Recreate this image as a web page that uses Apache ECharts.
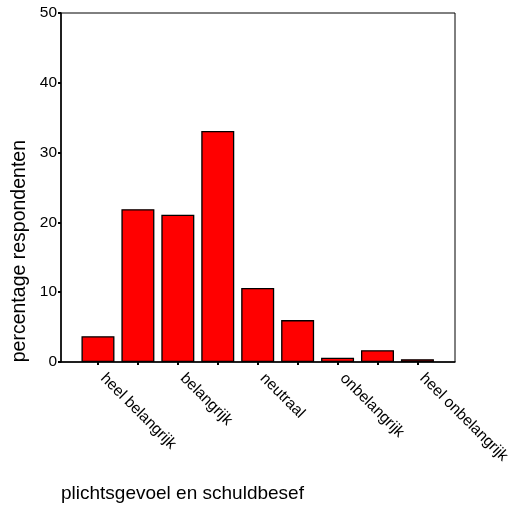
<!DOCTYPE html>
<html>
<head>
<meta charset="utf-8">
<script src="https://cdn.jsdelivr.net/npm/echarts@6/dist/echarts.min.js"></script>
<style>
  html, body { margin: 0; padding: 0; background: #fff; }
  #chart { width: 513px; height: 513px; }
</style>
</head>
<body>
<div id="chart"></div>
<script>
// 9-point scale, only every other point has a label
var categories = ['1', '2', '3', '4', '5', '6', '7', '8', '9'];
var tickLabels = ['heel belangrijk', '', 'belangrijk', '', 'neutraal', '', 'onbelangrijk', '', 'heel onbelangrijk'];
var percentages = [3.7, 21.9, 21.1, 33.1, 10.6, 6.0, 0.6, 1.7, 0.4];
var yTicks = [0, 10, 20, 30, 40, 50];

var font = 'Liberation Sans, Arial, sans-serif';
var myChart = echarts.init(document.getElementById('chart'), null, { renderer: 'canvas' });

var option = {
    animation: false,
    backgroundColor: '#fff',
    grid: [{
        // frame
        left: 61, top: 13, width: 394, height: 349,
        show: true,
        borderColor: '#000',
        borderWidth: 1,
        backgroundColor: 'transparent'
    }, {
        // bars
        left: 78, top: 13, width: 360, height: 349
    }],
    xAxis: [{
        gridIndex: 0,
        type: 'value',
        min: 0, max: 1,
        axisLine: { show: true, lineStyle: { color: '#000', width: 1.5 } },
        axisTick: { show: false },
        axisLabel: { show: false },
        splitLine: { show: false }
    }, {
        gridIndex: 1,
        type: 'category',
        data: categories,
        axisLine: { show: false },
        axisTick: {
            show: true, alignWithLabel: true, interval: 0, length: 3,
            lineStyle: { color: '#000', width: 2 }
        },
        axisLabel: {
            interval: 0,
            rotate: -45,
            margin: 9,
            padding: [0, 0, 0, 7],
            color: '#000',
            fontFamily: font,
            fontSize: 15.5,
            formatter: function (v, i) { return tickLabels[i]; }
        }
    }],
    yAxis: [{
        gridIndex: 0,
        type: 'value',
        min: yTicks[0], max: yTicks[yTicks.length - 1], interval: 10,
        axisLine: { show: true, lineStyle: { color: '#000', width: 1.5 } },
        axisTick: { show: true, length: 3, lineStyle: { color: '#000', width: 2 } },
        axisLabel: { color: '#000', fontFamily: font, fontSize: 15.5, margin: 4 },
        splitLine: { show: false }
    }, {
        gridIndex: 1,
        type: 'value',
        min: 0, max: 50,
        show: false
    }],
    graphic: [{
        type: 'text',
        left: 10, top: 140,
        rotation: Math.PI / 2,
        style: {
            text: 'percentage respondenten',
            font: '19.5px ' + font,
            fill: '#000'
        }
    }, {
        type: 'text',
        left: 61, top: 484,
        style: {
            text: 'plichtsgevoel en schuldbesef',
            font: '19px ' + font,
            fill: '#000'
        }
    }],
    series: [{
        type: 'bar',
        xAxisIndex: 1,
        yAxisIndex: 1,
        data: percentages,
        barWidth: 33,
        itemStyle: { color: '#ff0000', borderColor: '#000', borderWidth: 1.3 }
    }]
};

myChart.setOption(option);
</script>
</body>
</html>
